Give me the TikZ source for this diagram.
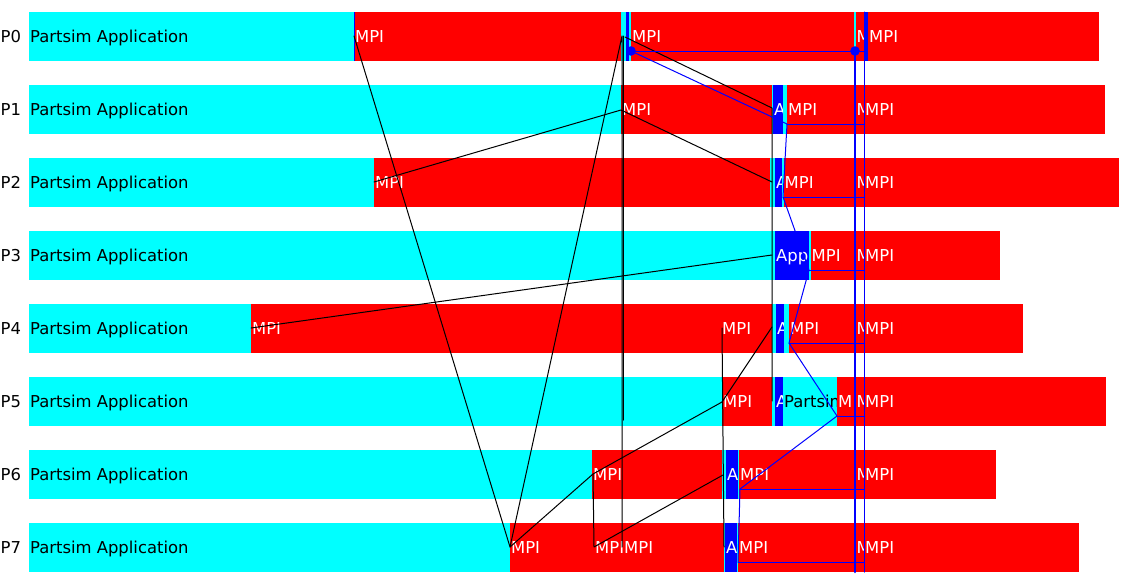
\documentclass[tikz,border=0pt]{standalone}
\usepackage{fontspec}
\setmainfont{DejaVu Sans}
\definecolor{appcyan}{RGB}{0,255,255}
\definecolor{mpired}{RGB}{255,0,0}
\definecolor{appblue}{RGB}{0,0,255}
\begin{document}
\begin{tikzpicture}[x=1pt, y=-1pt, font=\fontsize{16.4}{18}\selectfont, line join=round, line cap=round]
				\tikzset{nhan/.style={anchor=base west, inner sep=0pt},
					msg/.style={black, line width=1pt},
					vet/.style={appblue, line width=1pt}}
				\useasboundingbox[fill=white] (0,0) rectangle (1140,584);
				%Các thanh trạng thái
				\foreach \r/\xa/\xb/\col/\txt/\tcol in {
					0/29/354/appcyan/Partsim Application/black, 0/354/621/mpired/MPI/white, 0/353.5/355/appblue//white,
					0/621/631/appcyan//black, 0/626/629/appblue//white, 0/631/855/mpired/MPI/white, 0/854/855.5/appcyan//black,
					0/855.5/864/mpired/M/white, 0/864/868/appblue//white, 0/868/1099/mpired/MPI/white,
					1/29/621/appcyan/Partsim Application/black, 1/621/772/mpired/MPI/white, 1/772/773/appcyan//black,
					1/773/783/appblue/A/white, 1/783/787/appcyan//black, 1/787/854/mpired/MPI/white,
					1/855.5/864/mpired/M/white, 1/864/1105/mpired/MPI/white,
					2/29/374/appcyan/Partsim Application/black, 2/374/770/mpired/MPI/white, 2/770/775/appcyan//black,
					2/775/782/appblue/A/white, 2/782/783.5/appcyan//black, 2/783.5/854/mpired/MPI/white,
					2/855.5/864/mpired/M/white, 2/864/1119/mpired/MPI/white,
					3/29/775/appcyan/Partsim Application/black, 3/775/809/appblue/App/white, 3/809/810.5/appcyan//black,
					3/810.5/854/mpired/MPI/white, 3/855.5/864/mpired/M/white, 3/864/1000/mpired/MPI/white,
					4/29/251/appcyan/Partsim Application/black, 4/251/772/mpired/MPI/white, 4/721/772/mpired/MPI/white,
					4/772/776/appcyan//black, 4/776/784/appblue/A/white, 4/784/789/appcyan//black, 4/789/854/mpired/MPI/white,
					4/855.5/864/mpired/M/white, 4/864/1023/mpired/MPI/white,
					5/29/722/appcyan/Partsim Application/black, 5/722/772/mpired/MPI/white, 5/772/775/appcyan//black,
					5/775/783/appblue/A/white, 5/783/837/appcyan/Partsim/black, 5/837/854/mpired/M/white,
					5/855.5/864/mpired/M/white, 5/864/1106/mpired/MPI/white,
					6/29/592/appcyan/Partsim Application/black, 6/592/722/mpired/MPI/white, 6/722/726/appcyan//black,
					6/726/738/appblue/A/white, 6/738/739/appcyan//black, 6/739/854/mpired/MPI/white,
					6/855.5/864/mpired/M/white, 6/864/996/mpired/MPI/white,
					7/29/510/appcyan/Partsim Application/black, 7/510/724/mpired/MPI/white, 7/594/724/mpired/MPI/white,
					7/623/724/mpired/MPI/white, 7/724/725/appcyan//black, 7/725/737/appblue/A/white, 7/737/738/appcyan//black,
					7/738/854/mpired/MPI/white, 7/855.5/864/mpired/M/white, 7/864/1079/mpired/MPI/white}{
					\fill[\col] (\xa,12+73*\r) rectangle (\xb,61+73*\r);
					\begin{scope}
						\clip (\xa,12+73*\r) rectangle (\xb,61+73*\r);
						\node[nhan, text=\tcol] (s\r-\xa) at (\xa+1,42+73*\r) {\txt};
					\end{scope}
				}
				%Tên tiến trình
				\foreach \r in {0,...,7}
				\node[nhan] (P\r) at (0.5,42+73*\r) {P\r};
				%Điểm gửi/nhận
				\coordinate (m0a) at (354,36);
				\coordinate (m0b) at (622,36);
				\coordinate (m0c) at (623,36);
				\coordinate (m0d) at (625,37);
				\coordinate (m1a) at (621,110);
				\coordinate (m1b) at (772,108);
				\coordinate (m2a) at (374,182);
				\coordinate (m2b) at (772,182);
				\coordinate (m3a) at (772,255);
				\coordinate (m4a) at (251,328);
				\coordinate (m4b) at (772,327);
				\coordinate (m4c) at (722,328);
				\coordinate (m5a) at (722,402);
				\coordinate (m5b) at (772,401);
				\coordinate (m5c) at (623,420);
				\coordinate (m6a) at (593,474);
				\coordinate (m6b) at (723,475);
				\coordinate (m7a) at (510,547);
				\coordinate (m7b) at (594,547);
				\coordinate (m7c) at (622,547);
				\coordinate (m7d) at (724,547);
				%Thông điệp
				\draw[msg] (m0a)--(m7a)--(m0b)--(m7c);
				\draw[msg] (m0c)--(m5c);
				\draw[msg] (m2a)--(m1a)--(m2b);
				\draw[msg] (m0d)--(m1b)--(m5b);
				\draw[msg] (m4a)--(m3a);
				\draw[msg] (m7a)--(m6a)--(m5a)--(m4b);
				\draw[msg] (m6a)--(m7b)--(m6b);
				\draw[msg] (m4c)--(m7d);
				%Vết màu xanh
				\coordinate (b0) at (631,51);
				\coordinate (b1) at (787,124);
				\coordinate (b2) at (783,197);
				\coordinate (b3) at (809,270);
				\coordinate (b4) at (789,343);
				\coordinate (b5) at (837,416);
				\coordinate (b6) at (740,489);
				\coordinate (b7) at (738,562);
				\coordinate (t0) at (864.5,12);
				\coordinate (t1) at (864.5,572);
				\coordinate (d0) at (855,51);
				\coordinate (d1) at (855,572);
				\draw[vet] (b0)--(b1)--(b2)--(b3)--(b4)--(b5)--(b6)--(b7);
				\foreach \i in {0,...,7}
				\draw[vet] (b\i)--(b\i-|t0);
				\draw[vet] (t0)--(t1);
				\draw[appblue, line width=2.6pt] (d0)--(d1);
				\fill[appblue] (b0) circle (4.8) (d0) circle (4.8);
			\end{tikzpicture}
\end{document}
